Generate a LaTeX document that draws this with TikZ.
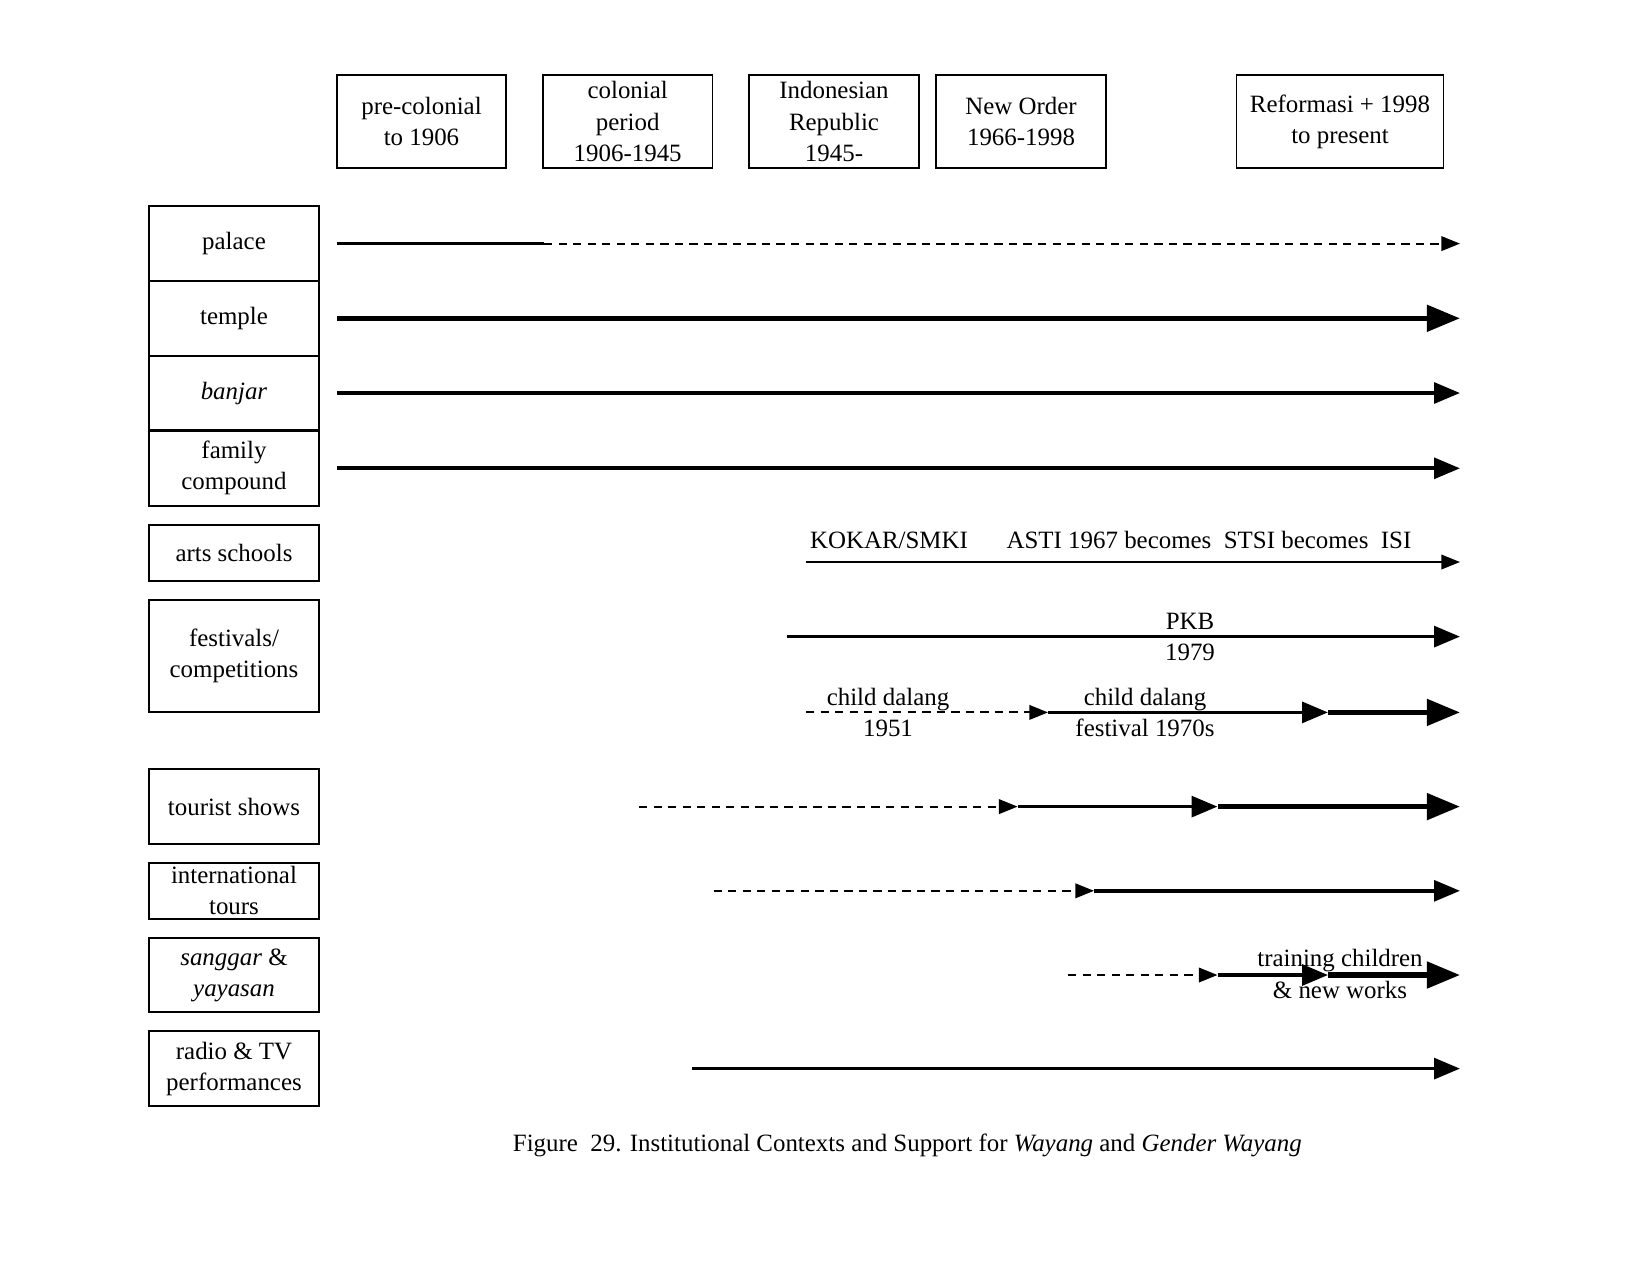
\documentclass[tikz,border=0pt]{standalone}
\usepackage{fontspec}
\setmainfont{Liberation Serif}
\usetikzlibrary{arrows.meta,positioning}
\tikzset{
  period/.style={draw, line width=0.9pt, minimum width=28.7mm, minimum height=15.75mm,
    inner sep=0pt, align=center},
  context/.style={draw, line width=0.9pt, minimum width=28.7mm, minimum height=12.65mm,
    inner sep=0pt, align=center},
  lbl/.style={align=center, inner sep=0pt},
  % three weights of support
  smallarrow/.style={line width=1pt, -{Triangle[length=9pt,width=7pt]}},
  midarrow/.style={line width=1.8pt, -{Triangle[length=12.5pt,width=10pt]}},
  bigarrow/.style={line width=2.6pt, -{Triangle[length=16pt,width=12.5pt]}},
  dashline/.style={dash pattern=on 4pt off 3pt},
}
\begin{document}
\begin{tikzpicture}[x=0.16933mm, y=-0.16933mm, font=\fontsize{12}{15}\selectfont]
  \useasboundingbox (0,0) rectangle (1650,1275);
  % periods
  \node[period] (pre) at (421.5,121.5) {pre-colonial\\to 1906};
  \node[period] (col) at (627.7,121.5) {colonial\\period\\1906-1945};
  \node[period] (rep) at (834,121.5) {Indonesian\\Republic\\1945-};
  \node[period] (new) at (1021,121.5) {New Order\\1966-1998};
  \node[period, minimum width=35.05mm] (ref) at (1340,121.5) {Reformasi + 1998\\to present};
  % contexts
  \node[context] (palace) at (234,243.6) {palace};
  \node[context] (temple) at (234,318.3) {temple};
  \node[context] (banjar) at (234,393) {\textit{banjar}};
  \node[context] (family) at (234,468.3) {family\\compound};
  \node[context, minimum height=9.45mm] (arts) at (234,553) {arts schools};
  \node[context, minimum height=19.07mm] (fest) at (234,656) {festivals/\\competitions};
  \node[context] (tourist) at (234,806.6) {tourist shows};
  \node[context, minimum height=9.45mm] (intl) at (234,890.8) {international\\tours};
  \node[context] (sanggar) at (234,975) {\textit{sanggar} \&\\\textit{yayasan}};
  \node[context] (radio) at (234,1068.6) {radio \& TV\\performances};
  % time marks
  \coordinate (xstart) at (337,0);
  \coordinate (xcol) at (544,0);
  \coordinate (xend) at (1460,0);
  \coordinate (xkokar) at (806,0);
  \coordinate (xpkb) at (787,0);
  \coordinate (x1970) at (1048,0);
  \coordinate (xthick) at (1328,0);
  \coordinate (xtour) at (639,0);
  \coordinate (xtour2) at (1017.6,0);
  \coordinate (xtour3) at (1217.5,0);
  \coordinate (xintl) at (713.5,0);
  \coordinate (xintl2) at (1094,0);
  \coordinate (xsang) at (1068,0);
  \coordinate (xradio) at (692,0);
  \coordinate (rarts) at (0,562);
  \coordinate (rpkb) at (0,636.6);
  \coordinate (rchild) at (0,712.4);
  % lines of support
  \draw[line width=1.8pt] (palace -| xstart) -- (palace -| xcol);
  \draw[smallarrow, dashline] (palace -| xcol) -- (palace -| xend);
  \draw[bigarrow] (temple -| xstart) -- (temple -| xend);
  \draw[midarrow] (banjar -| xstart) -- (banjar -| xend);
  \draw[midarrow] (family -| xstart) -- (family -| xend);
  \draw[smallarrow] (rarts -| xkokar) -- (rarts -| xend);
  \node[lbl] (kokar) at (889,540) {KOKAR/SMKI};
  \node[lbl] (asti) at (1209,540) {ASTI 1967 becomes\ \ STSI becomes\ \ ISI};
  \draw[midarrow] (rpkb -| xpkb) -- (rpkb -| xend);
  \node[lbl] (pkb) at (1190,636.6) {PKB\\1979};
  \draw[smallarrow, dashline] (rchild -| xkokar) -- (rchild -| x1970);
  \draw[midarrow] (rchild -| x1970) -- (rchild -| xthick);
  \draw[bigarrow] (rchild -| xthick) -- (rchild -| xend);
  \node[lbl] (dalang) at (888,712.4) {child dalang\\1951};
  \node[lbl] (dalangfest) at (1145,712.4) {child dalang\\festival 1970s};
  \draw[smallarrow, dashline] (tourist -| xtour) -- (tourist -| xtour2);
  \draw[midarrow] (tourist -| xtour2) -- (tourist -| xtour3);
  \draw[bigarrow] (tourist -| xtour3) -- (tourist -| xend);
  \draw[smallarrow, dashline] (intl -| xintl) -- (intl -| xintl2);
  \draw[midarrow] (intl -| xintl2) -- (intl -| xend);
  \draw[smallarrow, dashline] (sanggar -| xsang) -- (sanggar -| xtour3);
  \draw[midarrow] (sanggar -| xtour3) -- (sanggar -| xthick);
  \draw[bigarrow] (sanggar -| xthick) -- (sanggar -| xend);
  \node[lbl] (training) at (1340,974) {training children\\\& new works};
  \draw[midarrow] (radio -| xradio) -- (radio -| xend);
  % caption
  \node[lbl, anchor=west] (caption) at (512.5,1145)
    {Figure\ \ 29. Institutional Contexts and Support for \textit{Wayang} and \textit{Gender Wayang}};
\end{tikzpicture}
\end{document}
